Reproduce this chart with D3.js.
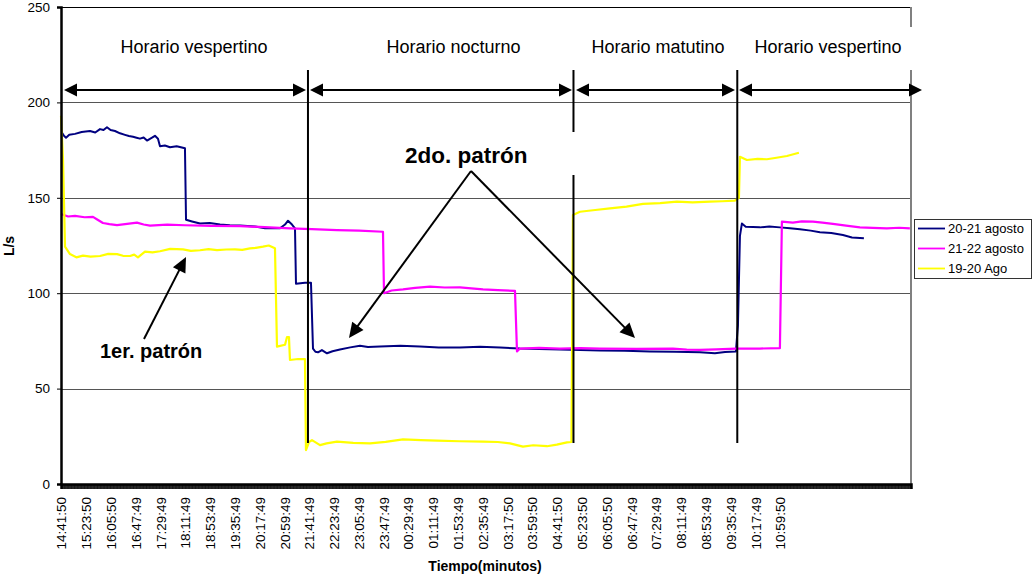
<!DOCTYPE html>
<html>
<head>
<meta charset="utf-8">
<script src="https://cdn.jsdelivr.net/npm/d3@7"></script>
<style>
  body { margin: 0; background: #fff; }
  svg { display: block; }
  text { font-family: Arial, "Liberation Sans", sans-serif; }
</style>
</head>
<body>
<svg id="chart" width="1034" height="579"></svg>
<script>
// Time axis: minutes elapsed since 14:41:50, one category per minute over 24 h
const tickLabels = ["14:41:50","15:23:50","16:05:50","16:47:49","17:29:49","18:11:49","18:53:49",
  "19:35:49","20:17:49","20:59:49","21:41:49","22:23:49","23:05:49","23:47:49","00:29:49",
  "01:11:49","01:53:49","02:35:49","03:17:50","03:59:50","04:41:50","05:23:50","06:05:50",
  "06:47:49","07:29:49","08:11:49","08:53:49","09:35:49","10:17:49","10:59:50"];
const labelStep = 42;          // minutes between printed labels
const yTicks = [0, 50, 100, 150, 200, 250];

// 20-21 agosto (L/s)
const navyT = [2, 5, 8.5, 14, 23.7, 35, 49.1, 58, 66.1, 72, 77.9, 84, 91.5, 100, 108.4, 115, 122, 128, 133.8, 140,
  145.7, 150, 154.2, 159.2, 164.3, 167.7, 176, 184.6, 196, 210, 211.8, 222, 235.5, 252, 269.4, 286, 303.2,
  328.7, 345.6, 371, 379.5, 384.6, 391.3, 396.4, 398.1, 413.3, 423.5, 426.9, 431, 435.4, 442, 450.6, 460,
  472.6, 490, 506.5, 520, 540.4, 575, 608.1, 640, 675.9, 710, 743.7, 777.5, 810, 845.3, 880, 913, 955, 997.7,
  1040, 1082.4, 1107.8, 1125, 1143.4, 1146.8, 1150.2, 1153.5, 1160, 1184, 1200, 1217.9, 1235, 1251.8,
  1270, 1285.7, 1305, 1324.7, 1340, 1360.2];
const navyV = [184, 182.5, 181.5, 183, 183.5, 184.5, 185, 184.2, 186, 185.5, 187, 185.5, 185, 183.8, 183, 182.4, 182, 181.5, 181, 181.6,
  180, 180.8, 181.5, 182.5, 181, 177, 177.4, 176.5, 177, 176, 138.5, 137.6, 136.5, 136.8, 136, 135.6, 135.5,
  135, 134, 134, 136, 138, 136, 134, 105, 105.5, 105.5, 71, 69.3, 69, 70.2, 68.5, 69.6,
  70.5, 71.6, 72.5, 71.8, 72, 72.4, 72, 71.6, 71.5, 71.9, 71.5, 71, 70.8, 70.5, 70.2, 70, 69.8, 69.5,
  69.3, 69, 68.5, 69.2, 69.5, 83, 130, 136.5, 134.8, 134.5, 135, 134.5, 134, 133.5,
  132.8, 132, 131.6, 130.5, 129.2, 128.8];

// 21-22 agosto (L/s)
const magT = [0, 12, 23.7, 40, 54.2, 62, 71.1, 82, 94.9, 112, 128.7, 140, 150.8, 180, 210, 255, 303.2, 345, 387.9,
  425, 467.5, 505, 545.5, 547.2, 560, 579.4, 600, 625.1, 650, 675.9, 695, 714.9, 740, 769.1, 772.5, 777.5,
  810, 845.3, 880, 913, 975, 1036.7, 1060, 1082.4, 1110, 1143.4, 1184, 1217.9, 1221.3, 1239.9, 1255,
  1273.8, 1290, 1307.7, 1330, 1353.4, 1375, 1399.1, 1420, 1438.1];
const magV = [141.5, 140.2, 140.5, 139.8, 140, 138.5, 136.8, 136.2, 135.7, 136.3, 137, 136, 135.4, 135.9, 135.6, 135.3, 135.2, 134.6, 134,
  133.6, 133.1, 132.8, 132.2, 100, 101.4, 102, 102.8, 103.4, 103, 103.1, 102.5, 102, 101.6, 101.2, 69.5, 71,
  71.3, 71, 71.2, 71, 70.8, 71, 70.4, 70.3, 70.6, 71, 71, 71.2, 137.5, 137, 137.6,
  137.5, 137, 136.3, 135.4, 134.5, 134.2, 134, 134.3, 134];

// 19-20 Ago (L/s)
const yelT = [0, 3.4, 6.8, 15.2, 26, 37.3, 50, 66.1, 80, 94.9, 105, 116.9, 124, 130.4, 142.3, 155, 167.7, 185, 206.7,
  220, 235.5, 250, 264.3, 280, 294.8, 307, 320.2, 330, 342.2, 352, 362.5, 365.9, 379.5, 382.9, 386.2, 387.9,
  401.5, 413.3, 415, 420.1, 425.2, 438.8, 450, 467.5, 495, 523.5, 550, 579.4, 610, 637, 675, 714.9, 740,
  760.6, 782.6, 800, 823.3, 840, 857.2, 864.8, 867.3, 879.2, 905, 930, 958, 985.9, 1015, 1043.5, 1070,
  1099.4, 1120, 1141.7, 1148.5, 1150.2, 1162, 1180, 1195.9, 1212, 1229.8, 1250.1];
const yelV = [193, 170, 124.4, 120.5, 118.8, 119.7, 119.2, 119.5, 120.6, 120.5, 119.6, 119.5, 120.2, 118.8, 121.8, 121.4, 122, 123.2, 123,
  122.2, 122.5, 123.1, 122.6, 122.9, 123, 122.7, 123.5, 123.8, 124.4, 125, 123.5, 72, 73, 77, 77, 65,
  65.5, 65.5, 17.8, 22, 23, 20.4, 21.3, 22.2, 21.6, 21.3, 22.1, 23.4, 23, 22.7, 22.4, 22.2, 22,
  21.3, 19.6, 20.3, 19.8, 20.6, 21.8, 22, 141, 142.7, 143.6, 144.5, 145.4, 146.8, 147.2, 148, 147.6,
  148, 148.2, 148.5, 150, 171.5, 169.8, 170.4, 170.2, 171, 171.9, 173.6];

const seriesNames = ["20-21 agosto", "21-22 agosto", "19-20 Ago"];
const seriesColors = ["#000080", "#FF00FF", "#FFFF00"];

// Schedule periods (minutes) and their captions
const periodBounds = [0, 418.4, 868.2, 1145.7, 1440];
const periodNames = ["Horario vespertino", "Horario nocturno", "Horario matutino", "Horario vespertino"];

const svg = d3.select("#chart");
const x = d3.scaleLinear().domain([0, 1440]).range([61, 911]);
const y = d3.scaleLinear().domain([0, 250]).range([484, 7]);

// gridlines
svg.append("g").selectAll("line").data(yTicks.slice(1, -1)).join("line")
  .attr("x1", x(0)).attr("x2", x(1440))
  .attr("y1", d => Math.round(y(d)) + 0.5).attr("y2", d => Math.round(y(d)) + 0.5)
  .attr("stroke", "#555").attr("stroke-width", 1);

// frame: top black, right grey
svg.append("line").attr("x1", x(0)).attr("x2", x(1440))
  .attr("y1", Math.round(y(250)) + 0.5).attr("y2", Math.round(y(250)) + 0.5)
  .attr("stroke", "#000").attr("stroke-width", 1);
svg.append("line").attr("x1", x(1440)).attr("x2", x(1440))
  .attr("y1", y(250)).attr("y2", y(0))
  .attr("stroke", "#808080").attr("stroke-width", 2);

// data lines
const line = d3.line().x(d => x(d[0])).y(d => y(d[1]));
const series = [d3.zip(navyT, navyV), d3.zip(magT, magV), d3.zip(yelT, yelV)];
const widths = [2, 2.2, 2.2];
svg.append("g").selectAll("path").data(series).join("path")
  .attr("d", line)
  .attr("fill", "none")
  .attr("stroke", (d, i) => seriesColors[i])
  .attr("stroke-width", (d, i) => widths[i])
  .attr("stroke-linejoin", "round");

// y axis
const yAxis = svg.append("g").attr("transform", `translate(${x(0)},0)`)
  .call(d3.axisLeft(y).tickValues(yTicks).tickSize(4).tickPadding(7).tickFormat(d3.format("d")));
yAxis.select(".domain").attr("stroke", "#000").attr("stroke-width", 2.5);
yAxis.selectAll(".tick line").attr("stroke", "#000");
yAxis.selectAll("text").attr("font-size", "13.5px").attr("fill", "#000")
  .style("font-family", "Arial, 'Liberation Sans', sans-serif");

// x axis: a tick per minute forms the dense band
const xBand = svg.append("g").attr("transform", `translate(0,${y(0)})`)
  .call(d3.axisBottom(x).tickValues(d3.range(0, 1441, 1)).tickSize(5).tickFormat(""));
xBand.select(".domain").attr("stroke", "#000").attr("stroke-width", 2.5);
xBand.selectAll(".tick line").attr("stroke", "#000").attr("stroke-width", 0.8);

const xLab = svg.append("g").attr("transform", `translate(0,${y(0)})`)
  .call(d3.axisBottom(x).tickValues(tickLabels.map((d, i) => i * labelStep))
    .tickSize(0).tickFormat((d, i) => tickLabels[i]));
xLab.select(".domain").remove();
xLab.selectAll("text")
  .attr("transform", "rotate(-90)")
  .attr("text-anchor", "end")
  .attr("x", -13).attr("y", 0).attr("dy", "0.36em")
  .attr("font-size", "13.5px").attr("fill", "#000")
  .style("font-family", "Arial, 'Liberation Sans', sans-serif");

// axis titles
svg.append("text").attr("x", 485).attr("y", 571)
  .attr("text-anchor", "middle").attr("font-size", "14px").attr("font-weight", "bold")
  .text("Tiempo(minutos)");
svg.append("text").attr("transform", "translate(14,246) rotate(-90)")
  .attr("text-anchor", "middle").attr("font-size", "14px").attr("font-weight", "bold")
  .text("L/s");

// helper: filled arrowhead at (tx,ty) pointing away from (fx,fy)
function arrowHead(g, tx, ty, fx, fy, len, half) {
  const a = Math.atan2(ty - fy, tx - fx);
  const bx = tx - len * Math.cos(a), by = ty - len * Math.sin(a);
  const px = -Math.sin(a) * half, py = Math.cos(a) * half;
  g.append("path")
    .attr("d", `M${tx},${ty}L${bx + px},${by + py}L${bx - px},${by - py}Z`)
    .attr("fill", "#000");
}

// period captions; the last caption's box hides part of the frame
const ann = svg.append("g");
const capX = [194, 453.5, 658, 828];
ann.append("rect").attr("x", 745).attr("y", 27).attr("width", 172).attr("height", 43).attr("fill", "#fff");
ann.selectAll("text.period").data(periodNames).join("text")
  .attr("class", "period")
  .attr("x", (d, i) => capX[i]).attr("y", 53)
  .attr("text-anchor", "middle").attr("font-size", "18px").attr("fill", "#000")
  .text(d => d);

// period dividers
const arrowY = 90;
periodBounds.slice(1, -1).forEach(b => {
  ann.append("line").attr("x1", x(b)).attr("x2", x(b)).attr("y1", 70).attr("y2", 443)
    .attr("stroke", "#000").attr("stroke-width", 2);
});

// double-headed period arrows
const segs = [[64, 306], [310, 572], [576, 735], [739, 922]];
segs.forEach(([a, b]) => {
  ann.append("line").attr("x1", a + 8).attr("x2", b - 8).attr("y1", arrowY).attr("y2", arrowY)
    .attr("stroke", "#000").attr("stroke-width", 2);
  arrowHead(ann, a, arrowY, b, arrowY, 13, 6.5);
  arrowHead(ann, b, arrowY, a, arrowY, 13, 6.5);
});

// "2do. patrón" callout (its box covers part of a divider)
ann.append("rect").attr("x", 400).attr("y", 132).attr("width", 177).attr("height", 43).attr("fill", "#fff");
ann.append("text").attr("x", 405).attr("y", 163).attr("font-size", "22.5px").attr("font-weight", "bold")
  .text("2do. patrón");
const apex = [471, 171];
[[349, 338], [635, 338]].forEach(([tx, ty]) => {
  const a = Math.atan2(ty - apex[1], tx - apex[0]);
  ann.append("line").attr("x1", apex[0]).attr("y1", apex[1])
    .attr("x2", tx - 10 * Math.cos(a)).attr("y2", ty - 10 * Math.sin(a))
    .attr("stroke", "#000").attr("stroke-width", 2);
  arrowHead(ann, tx, ty, apex[0], apex[1], 15, 7);
});

// "1er. patrón" callout
ann.append("text").attr("x", 100).attr("y", 358).attr("font-size", "20px").attr("font-weight", "bold")
  .text("1er. patrón");
{
  const fx = 144, fy = 339, tx = 186, ty = 257;
  const a = Math.atan2(ty - fy, tx - fx);
  ann.append("line").attr("x1", fx).attr("y1", fy)
    .attr("x2", tx - 10 * Math.cos(a)).attr("y2", ty - 10 * Math.sin(a))
    .attr("stroke", "#000").attr("stroke-width", 2);
  arrowHead(ann, tx, ty, fx, fy, 15, 7);
}

// legend
const leg = svg.append("g").attr("transform", "translate(914,219)");
leg.append("rect").attr("x", 0.5).attr("y", 0.5).attr("width", 117).attr("height", 59)
  .attr("fill", "#fff").attr("stroke", "#333").attr("stroke-width", 1);
seriesNames.forEach((n, i) => {
  const yy = 9.5 + i * 20;
  leg.append("line").attr("x1", 4).attr("x2", 31).attr("y1", yy).attr("y2", yy)
    .attr("stroke", seriesColors[i]).attr("stroke-width", 1.8);
  leg.append("text").attr("x", 34).attr("y", yy).attr("dy", "0.36em")
    .attr("font-size", "13px").attr("fill", "#000").text(n);
});
</script>
</body>
</html>
